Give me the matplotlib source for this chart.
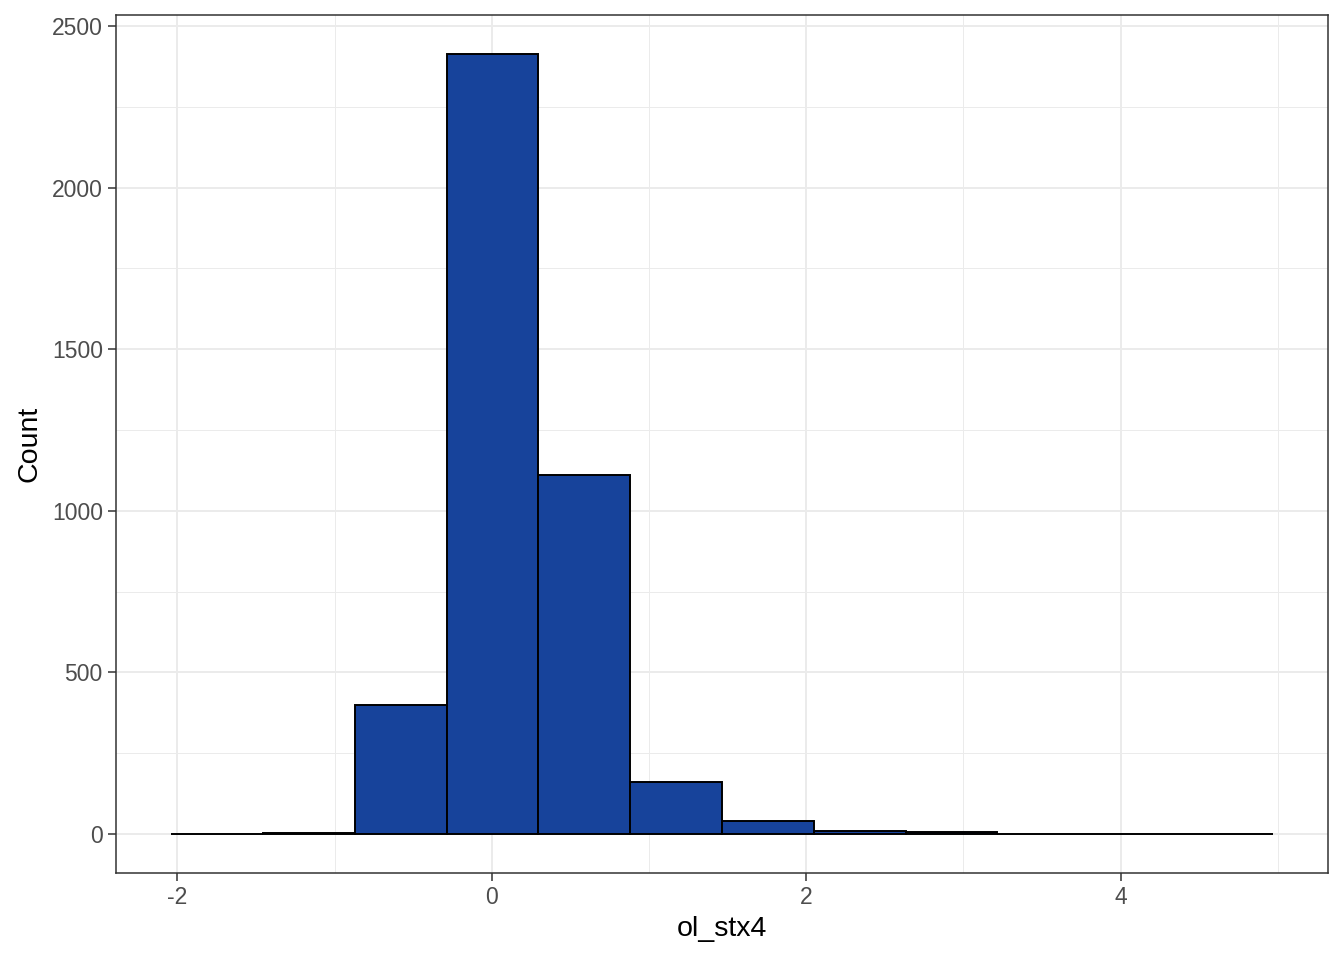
import matplotlib
matplotlib.use("Agg")
import matplotlib.pyplot as plt
import numpy as np
from matplotlib.ticker import MultipleLocator

# histogram of ol_stx4 (12 bins)
bin_edges = [-2.04, -1.456, -0.872, -0.288, 0.296, 0.88, 1.464,
             2.048, 2.632, 3.216, 3.8, 4.384, 4.968]
counts = [1, 4, 399, 2413, 1112, 161, 41, 10, 7, 1, 0, 1]

x_ticks = [-2, 0, 2, 4]
y_ticks = [0, 500, 1000, 1500, 2000, 2500]

plt.rcParams["font.family"] = ["Liberation Sans", "DejaVu Sans"]

fig = plt.figure(figsize=(13.44, 9.6), dpi=100)
ax = fig.add_axes([116 / 1344, 1 - 873 / 960, (1328 - 116) / 1344, (873 - 15) / 960])

edges = np.array(bin_edges)
ax.bar(edges[:-1], counts, width=np.diff(edges), align="edge",
       color="#17439B", edgecolor="black", linewidth=1.4, zorder=3)

x_rng = edges[-1] - edges[0]
ax.set_xlim(edges[0] - 0.05 * x_rng, edges[-1] + 0.05 * x_rng)
ymax = max(counts)
ax.set_ylim(-0.05 * ymax, ymax * 1.05)

ax.set_xticks(x_ticks)
ax.set_xticklabels([str(t) for t in x_ticks])
ax.set_yticks(y_ticks)
ax.xaxis.set_minor_locator(MultipleLocator(1))
ax.yaxis.set_minor_locator(MultipleLocator(250))

ax.grid(which="major", color="#EBEBEB", linewidth=1.4, zorder=0)
ax.grid(which="minor", color="#EBEBEB", linewidth=0.7, zorder=0)
ax.set_axisbelow(True)

for s in ax.spines.values():
    s.set_color("#333333")
    s.set_linewidth(1.1)

ax.tick_params(which="major", length=6, width=1.1, color="#333333",
               labelcolor="#4D4D4D", labelsize=16.5, pad=3.5)
ax.tick_params(which="minor", length=0)

ax.set_xlabel("ol_stx4", fontsize=20.5, labelpad=5)
ax.set_ylabel("Count", fontsize=20.5, labelpad=7)

fig.savefig("out.png", dpi=100)
